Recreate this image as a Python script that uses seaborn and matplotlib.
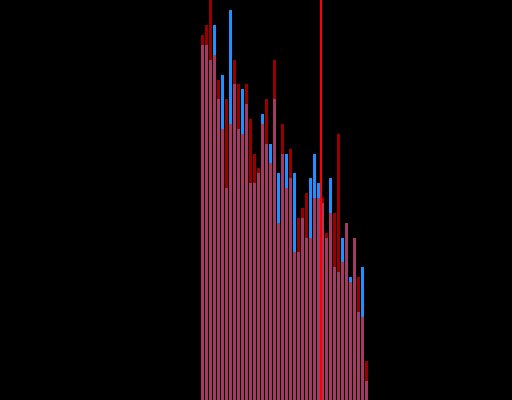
import matplotlib
matplotlib.use("Agg")
import matplotlib.pyplot as plt
import seaborn as sns
import numpy as np
import pandas as pd

bins = list(range(42))
blue_vals = [88.75, 88.75, 85, 93.75, 75.25, 81.25, 53, 97.5, 79, 67.75,
             77.75, 74, 54.25, 54.25, 56.75, 71.5, 64, 64, 75.25, 56.75,
             61.5, 61.5, 55.5, 56.75, 37, 45.5, 40.5, 55.5, 61.5, 54.25,
             49.25, 40.5, 55.5, 33.25, 32, 40.5, 44.25, 30.75, 40.5, 22,
             33.25, 4.75]
red_vals = [91.25, 93.75, 102, 86.25, 80, 67.75, 75.25, 69, 85, 79,
            66.5, 79, 70.25, 61.5, 58, 69, 75.25, 59.25, 85, 44.25,
            69, 53, 62.75, 37, 45.5, 48, 51.75, 40.5, 50.5, 50.5,
            50.5, 41.75, 46.75, 46.75, 66.5, 34.5, 44.25, 29.5, 40.5, 30.75,
            20.75, 9.75]
marker_pos = 29.5

df = pd.DataFrame({"bin": bins, "blue": blue_vals, "red": red_vals})

sns.set_style("dark")
fig = plt.figure(figsize=(5.12, 4.0), dpi=100, facecolor="black")
ax = fig.add_axes([0, 0, 1, 1])
ax.set_facecolor("black")

sns.barplot(data=df, x="bin", y="blue", color="#1E90FF", saturation=1,
            width=0.75, linewidth=0, ax=ax, order=bins)
sns.barplot(data=df, x="bin", y="red", color="#FF0000", saturation=1,
            width=0.75, linewidth=0, alpha=0.6, ax=ax, order=bins)
ax.axvline(marker_pos, color="red", lw=1.5)

ax.set_xlim(-50.625, 77.375)
ax.set_ylim(0, 100)
ax.set_axis_off()

fig.savefig("out.png", dpi=100, facecolor="black")
